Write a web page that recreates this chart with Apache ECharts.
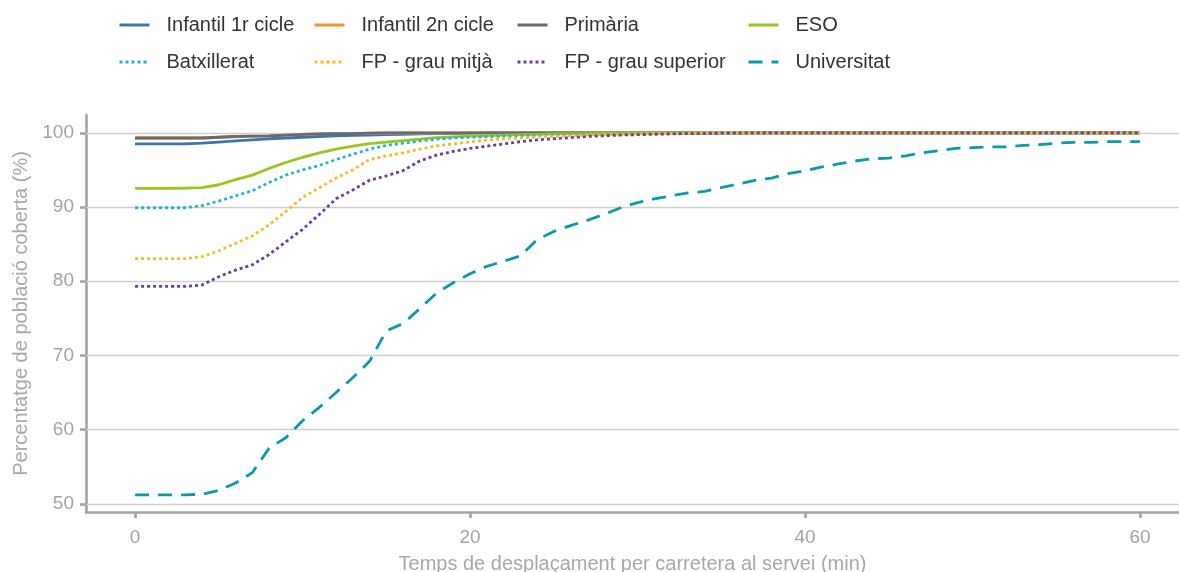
<!DOCTYPE html>
<html>
<head>
<meta charset="utf-8">
<script src="https://cdn.jsdelivr.net/npm/echarts@6/dist/echarts.min.js"></script>
<style>
  html, body { margin: 0; padding: 0; background: #fff; }
  #chart { width: 1179px; height: 572px; }
</style>
</head>
<body>
<div id="chart"></div>
<script>
// minuts de desplaçament
var minutes = [0,1,2,3,4,5,6,7,8,9,10,11,12,13,14,15,16,17,18,19,20,21,22,23,24,25,26,27,28,29,30,
  31,32,33,34,35,36,37,38,39,40,41,42,43,44,45,46,47,48,49,50,51,52,53,54,55,56,57,58,59,60];

var infantil1 = [98.5,98.5,98.5,98.5,98.6,98.75,98.9,99.05,99.2,99.3,99.4,99.5,99.6,99.65,99.7,99.75,99.8,99.85,99.9,99.9,99.95,
  100,100,100,100,100,100,100,100,100,100,100,100,100,100,100,100,100,100,100,100,
  100,100,100,100,100,100,100,100,100,100,100,100,100,100,100,100,100,100,100,100];
var infantil2 = [99.3,99.3,99.3,99.3,99.3,99.4,99.5,99.55,99.6,99.7,99.8,99.85,99.9,99.9,99.95,100,100,100,100,100,100,
  100,100,100,100,100,100,100,100,100,100,100,100,100,100,100,100,100,100,100,100,
  100,100,100,100,100,100,100,100,100,100,100,100,100,100,100,100,100,100,100,100];
var primaria = [99.3,99.3,99.3,99.3,99.3,99.4,99.5,99.55,99.6,99.7,99.8,99.85,99.9,99.9,99.95,100,100,100,100,100,100,
  100,100,100,100,100,100,100,100,100,100,100,100,100,100,100,100,100,100,100,100,
  100,100,100,100,100,100,100,100,100,100,100,100,100,100,100,100,100,100,100,100];
var eso = [92.5,92.5,92.5,92.55,92.6,93.0,93.7,94.3,95.2,96.0,96.7,97.3,97.8,98.2,98.55,98.75,98.95,99.15,99.35,99.45,99.55,
  99.62,99.7,99.75,99.8,99.85,99.9,99.9,99.95,100,100,100,100,100,100,100,100,100,100,100,100,
  100,100,100,100,100,100,100,100,100,100,100,100,100,100,100,100,100,100,100,100];
var batxillerat = [89.9,89.9,89.9,89.9,90.2,90.8,91.5,92.2,93.3,94.3,95.0,95.6,96.4,97.1,97.8,98.3,98.6,98.9,99.15,99.3,99.4,
  99.48,99.55,99.6,99.65,99.7,99.75,99.8,99.85,99.88,99.9,99.92,99.95,100,100,100,100,100,100,100,100,
  100,100,100,100,100,100,100,100,100,100,100,100,100,100,100,100,100,100,100,100];
var fpMitja = [83.05,83.05,83.05,83.05,83.3,84.1,85.1,86.1,87.6,89.4,91.3,92.6,93.9,95.0,96.4,96.9,97.3,97.8,98.25,98.5,98.8,
  99.0,99.2,99.3,99.45,99.55,99.6,99.7,99.75,99.8,99.85,99.9,99.9,99.95,100,100,100,100,100,100,100,
  100,100,100,100,100,100,100,100,100,100,100,100,100,100,100,100,100,100,100,100];
var fpSuperior = [79.3,79.3,79.3,79.3,79.5,80.6,81.5,82.2,83.6,85.3,87.0,89.0,91.1,92.3,93.6,94.2,94.9,96.2,97.0,97.5,97.9,
  98.2,98.5,98.8,99.05,99.2,99.35,99.5,99.6,99.7,99.75,99.8,99.85,99.9,99.9,99.95,99.95,100,100,100,100,
  100,100,100,100,100,100,100,100,100,100,100,100,100,100,100,100,100,100,100,100];
var universitat = [51.2,51.2,51.2,51.2,51.3,51.8,52.8,54.2,57.5,58.9,61.2,63.0,65.0,67.0,69.2,73.3,74.3,76.3,78.4,79.8,81.0,
  82.0,82.7,83.4,85.6,86.7,87.5,88.2,89.0,89.9,90.6,91.1,91.5,91.9,92.1,92.6,93.1,93.6,93.9,94.5,94.9,
  95.4,95.8,96.2,96.5,96.6,96.9,97.3,97.6,97.9,98.0,98.1,98.1,98.3,98.4,98.6,98.7,98.7,98.8,98.8,98.8];

var seriesNames = ['Infantil 1r cicle', 'Infantil 2n cicle', 'Primària', 'ESO',
  'Batxillerat', 'FP - grau mitjà', 'FP - grau superior', 'Universitat'];
var seriesValues = [infantil1, infantil2, primaria, eso, batxillerat, fpMitja, fpSuperior, universitat];
var xTicks = [0, 20, 40, 60];
var yTicks = [50, 60, 70, 80, 90, 100];

var colors = ['#3a74b3', '#f5922f', '#6b6b6b', '#97c71e', '#20b4da', '#fcb828', '#6c3f97', '#0a9aa8'];
var lineTypes = ['solid', 'solid', 'solid', 'solid', [3, 3], [3, 3], [3, 3], [14, 9]];
// posicions de la llegenda (2 files x 4 columnes)
var legendLeft = [118, 313, 516, 747];
var legendTop = [15, 52];

var font = 'Liberation Sans, Arial, sans-serif';
var axisGray = '#a3a3a3';

function pairs(values) {
  return minutes.map(function (m, i) { return [m, values[i]]; });
}

var series = seriesValues.map(function (vals, i) {
  return {
    name: seriesNames[i],
    type: 'line',
    data: pairs(vals),
    symbol: 'none',
    smooth: false,
    z: 3 + i,
    lineStyle: { color: colors[i], width: 2.8, type: lineTypes[i] },
    itemStyle: { color: colors[i] },
    emphasis: { disabled: true }
  };
});

// línies de la graella
series.push({
  type: 'line',
  data: [],
  silent: true,
  z: 1,
  markLine: {
    silent: true,
    symbol: 'none',
    label: { show: false },
    lineStyle: { color: '#cfcfcf', width: 1.3, type: 'solid' },
    data: yTicks.map(function (v) { return { yAxis: v }; })
  }
});

var legends = seriesNames.map(function (name, i) {
  return {
    data: [name],
    left: legendLeft[i % 4],
    top: legendTop[Math.floor(i / 4)],
    padding: 0,
    itemWidth: 30,
    itemHeight: 16,
    selectedMode: false,
    itemStyle: { opacity: 0 },
    lineStyle: { width: 3 },
    textStyle: { fontFamily: font, fontSize: 20, color: '#333', padding: [0, 0, 0, 12] }
  };
});

var chart = echarts.init(document.getElementById('chart'), null, { renderer: 'canvas' });
chart.setOption({
  animation: false,
  backgroundColor: '#fff',
  color: colors,
  legend: legends,
  grid: { left: 86, right: 0, top: 115, bottom: 60, containLabel: false, outerBoundsMode: 'none' },
  xAxis: {
    type: 'value',
    min: -2.93,
    max: 62.33,
    name: 'Temps de desplaçament per carretera al servei (min)',
    nameLocation: 'middle',
    nameGap: 42,
    nameTextStyle: { fontFamily: font, fontSize: 20, color: '#a8a8a8' },
    axisLine: { show: true, onZero: false, lineStyle: { color: axisGray, width: 2.6 } },
    axisTick: { show: true, length: 6, customValues: xTicks, lineStyle: { color: axisGray, width: 2.6 } },
    axisLabel: { customValues: xTicks, margin: 16, fontFamily: font, fontSize: 19, color: '#a3a3a3' },
    splitLine: { show: false }
  },
  yAxis: {
    type: 'value',
    min: 48.9,
    max: 102.4,
    name: 'Percentatge de població coberta (%)',
    nameLocation: 'middle',
    nameRotate: 90,
    nameGap: 54,
    nameTextStyle: { fontFamily: font, fontSize: 20, color: '#a8a8a8' },
    axisLine: { show: true, onZero: false, lineStyle: { color: axisGray, width: 2.6 } },
    axisTick: { show: true, length: 6, customValues: yTicks, lineStyle: { color: axisGray, width: 2.6 } },
    axisLabel: { customValues: yTicks, margin: 12, fontFamily: font, fontSize: 19, color: '#a3a3a3' },
    splitLine: { show: false }
  },
  series: series
});
</script>
</body>
</html>
